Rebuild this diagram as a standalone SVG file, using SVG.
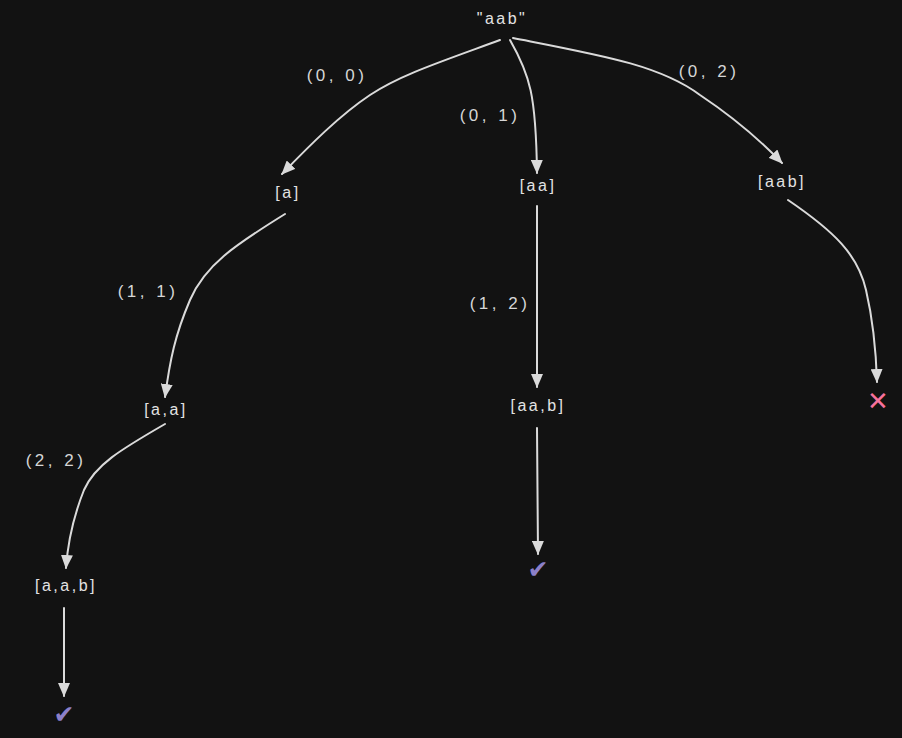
<svg xmlns="http://www.w3.org/2000/svg" width="902" height="738" viewBox="0 0 902 738">
<defs>
<style>
.t{font-family:"Liberation Sans",Arial,sans-serif;font-size:16px;fill:#e3e3e3;text-anchor:middle;letter-spacing:2.5px}
.l{font-family:"Liberation Sans",Arial,sans-serif;font-size:17px;fill:#d6d6d6;text-anchor:middle;letter-spacing:3.5px}
.c{fill:none;stroke:#dadada;stroke-width:2;stroke-linecap:round}
.ok{font-family:"DejaVu Sans",sans-serif;font-size:25px;font-weight:bold;fill:#8c80c9;text-anchor:middle}
.no{font-family:"DejaVu Sans",sans-serif;font-size:26px;font-weight:bold;fill:#f7719b;text-anchor:middle}
</style>
<marker id="ah" viewBox="0 0 14 12" refX="13" refY="6" markerWidth="14" markerHeight="12" markerUnits="userSpaceOnUse" orient="auto">
<path d="M0,0 L14,6 L0,12 Z" fill="#dadada"/>
</marker>
</defs>
<rect width="902" height="738" fill="#121212"/>
<g id="connectors">
<path class="c" marker-end="url(#ah)" d="M500,40 C440,62 400,75 370,95 C340,115 310,145 282,174"/>
<path class="c" marker-end="url(#ah)" d="M510,40 C530,75 536,95 537,173"/>
<path class="c" marker-end="url(#ah)" d="M513,38 C600,55 660,65 700,95 C730,115 760,140 782,163"/>
<path class="c" marker-end="url(#ah)" d="M285,214 C235,245 205,265 190,300 C175,335 170,360 165,397"/>
<path class="c" marker-end="url(#ah)" d="M537,206 L537,387"/>
<path class="c" marker-end="url(#ah)" d="M788,200 C835,232 858,255 866,290 C873,320 876,350 877,382"/>
<path class="c" marker-end="url(#ah)" d="M165,424 C120,450 95,465 84,490 C74,515 68,540 66,568"/>
<path class="c" marker-end="url(#ah)" d="M537,428 L538,554"/>
<path class="c" marker-end="url(#ah)" d="M64,608 L64,696"/>
</g>
<g id="labels">
<text class="l" x="337" y="81">(0, 0)</text>
<text class="l" x="490" y="121">(0, 1)</text>
<text class="l" x="709" y="77">(0, 2)</text>
<text class="l" x="148" y="297">(1, 1)</text>
<text class="l" x="500" y="309">(1, 2)</text>
<text class="l" x="56" y="466">(2, 2)</text>
</g>
<g id="root"><text class="t" x="502" y="24">"aab"</text></g>
<g id="n-a"><text class="t" x="288" y="198">[a]</text></g>
<g id="n-aa"><text class="t" x="538" y="191">[aa]</text></g>
<g id="n-aab"><text class="t" x="782" y="187">[aab]</text></g>
<g id="n-a-a"><text class="t" x="166" y="415">[a,a]</text></g>
<g id="n-aa-b"><text class="t" x="538" y="411">[aa,b]</text></g>
<g id="n-fail"><text class="no" x="878" y="410">✕</text></g>
<g id="n-a-a-b"><text class="t" x="66" y="591">[a,a,b]</text></g>
<g id="n-ok1"><text class="ok" x="538" y="578">✔</text></g>
<g id="n-ok2"><text class="ok" x="64" y="723">✔</text></g>
</svg>
